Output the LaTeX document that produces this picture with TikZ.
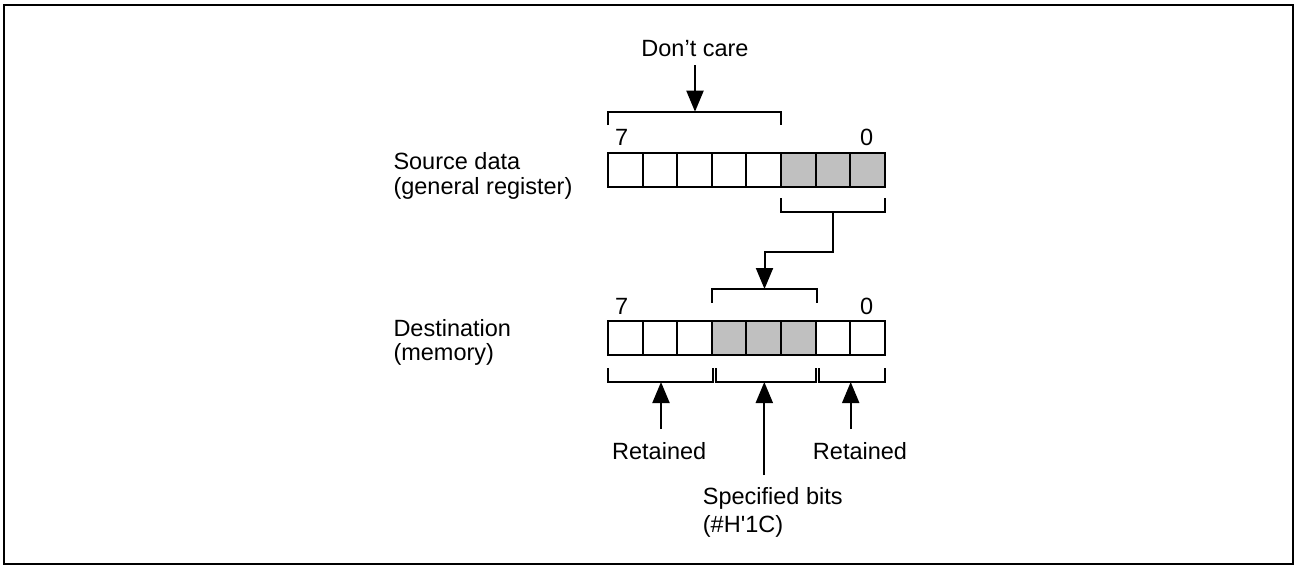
\documentclass[tikz,border=0pt]{standalone}
\usepackage{fontspec}
\setmainfont{Liberation Sans}
\newfontfamily\straightfont{Liberation Sans}
\usetikzlibrary{arrows.meta}
\definecolor{cellgray}{RGB}{192,192,192}
\begin{document}
\begin{tikzpicture}[x=1pt,y=-1pt,
  txt/.style={font=\fontsize{23.5}{23}\selectfont, inner sep=0pt},
  cell/.style={draw, line width=2pt, minimum width=34.625pt, minimum height=34pt, inner sep=0pt, fill=white},
  shaded/.style={cell, fill=cellgray},
  brk/.style={line width=2pt},
  arr/.style={line width=2pt, -{Triangle[length=21pt,width=17pt]}},
  frame/.style={line width=2.2pt}]
\useasboundingbox (0,0) rectangle (1294,565);
\draw[frame] (4.3,5.2) rectangle (1292.6,563.8);

% source register
\foreach \i in {0,...,4} \node[cell] (s\i) at ({625.3+34.625*\i},169.7) {};
\foreach \i in {5,6,7} \node[shaded] (s\i) at ({625.3+34.625*\i},169.7) {};
% destination register
\foreach \i in {0,1,2,6,7} \node[cell] (d\i) at ({625.3+34.625*\i},338) {};
\foreach \i in {3,4,5} \node[shaded] (d\i) at ({625.3+34.625*\i},338) {};

% bit numbers
\node[txt, anchor=base] (s7l) at (621.7,145) {7};
\node[txt, anchor=base] (s0l) at (866.7,145) {0};
\node[txt, anchor=base] (d7l) at (621.7,314.3) {7};
\node[txt, anchor=base] (d0l) at (866.7,314.3) {0};

% left labels
\node[txt, anchor=north west, align=left, font=\fontsize{23.5}{25}\selectfont] (src) at (393.3,152.5) {Source data\\(general register)};
\node[txt, anchor=north west, align=left, font=\fontsize{23.5}{24}\selectfont] (dst) at (393.3,319) {Destination\\(memory)};

% Don't care
\node[txt, anchor=base, inner sep=0pt] (dc) at (695,56.7) {Don’t care};
\coordinate (bt) at (695,111.7);
\draw[brk] (608,125) -- (608,111.7) -- (781,111.7) -- (781,125);
\draw[arr] ([yshift=-8pt]dc.south) -- (bt);

% source lower bracket and transfer arrow
\draw[brk] (781,198) -- (781,211.7) -- (885,211.7) -- (885,198);
\coordinate (sb) at (833.3,211.7);
\coordinate (dt) at (764.5,289);
\draw[brk] (712.3,302.7) -- (712.3,289) -- (816.7,289) -- (816.7,302.7);
\draw[arr] (sb) -- (sb |- 0,252) -| (dt);

% destination lower brackets
\draw[brk] (608,368) -- (608,382) -- (712.7,382) -- (712.7,368);
\draw[brk] (716,368) -- (716,382) -- (816,382) -- (816,368);
\draw[brk] (818.7,368) -- (818.7,382) -- (885,382) -- (885,368);
\coordinate (bl) at (661,382);
\coordinate (bm) at (764.3,382);
\coordinate (br) at (850.7,382);

% bottom labels
\node[txt, anchor=base] (rl) at (659.2,459.3) {Retained};
\node[txt, anchor=base] (rr) at (860,459.3) {Retained};
\node[txt, anchor=north west, align=left, font=\fontsize{23.5}{28}\selectfont] (sp) at (702.7,487.5) {Specified bits\\(\#H{\straightfont '}1C)};

\draw[arr] (bl |- 0,429) -- (bl);
\draw[arr] (br |- 0,429) -- (br);
\draw[arr] (bm |- 0,475) -- (bm);
\end{tikzpicture}
\end{document}
